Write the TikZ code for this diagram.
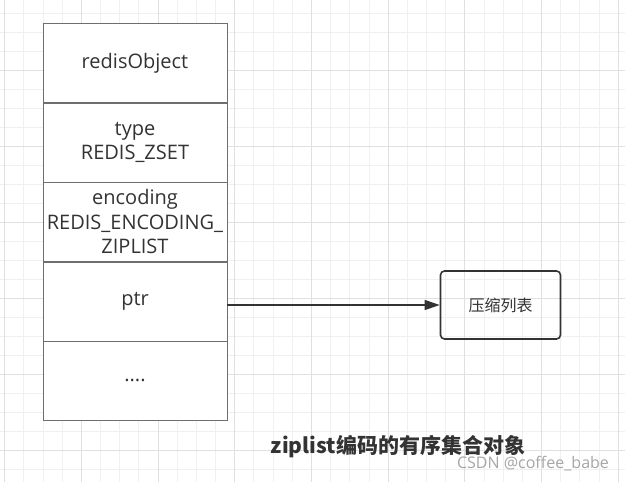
\documentclass[tikz,border=0pt]{standalone}
\usepackage{fontspec}
\setmainfont{Open Sans}
\newfontfamily\cjk{Noto Sans CJK SC}
\usetikzlibrary{arrows.meta,positioning}
\definecolor{ink}{HTML}{333333}
\definecolor{cellline}{HTML}{6E6E6E}
\definecolor{minorgrid}{HTML}{F0F0F0}
\definecolor{majorgrid}{HTML}{E0E0E0}

\begin{document}
\begin{tikzpicture}[x=1pt,y=-1pt]
	\useasboundingbox (0,0) rectangle (625,482);
	\fill[white] (0,0) rectangle (625,482);

	% background grid
	\begin{scope}
		\clip (0,0) rectangle (625,482);
		\draw[minorgrid,line width=0.8pt,xstep=19.175pt,ystep=19pt,shift={(4.6,70)}] (-20,-90) grid (640,430);
		\draw[majorgrid,line width=0.8pt,xstep=76.7pt,ystep=76pt,shift={(4.6,70)}] (-20,-90) grid (640,430);
	\end{scope}

	\begin{scope}[every node/.style={draw=cellline,fill=white,text=ink,minimum width=184.5pt,minimum height=79pt,inner sep=0pt,align=center,font=\fontsize{20}{24.5}\selectfont}]
		\node (obj) at (135,63) {redisObject};
		\node (type) [below=0pt of obj] {type\\REDIS\_ZSET};
		\node (enc) [below=0pt of type] {encoding\\REDIS\_ENCODING\_\\ZIPLIST};
		\node (ptr) [below=0pt of enc] {ptr};
		\node (more) [below=0pt of ptr] {....};
	\end{scope}

	\node (zl) [draw=ink,line width=1.6pt,rounded corners=4pt,minimum width=120pt,minimum height=68pt,text=ink,font=\cjk\fontsize{16}{18}\selectfont] at (500.5,305) {压缩列表};

	\draw[-{Triangle[length=15pt,width=10pt]},ink,line width=1.2pt] (ptr.east |- zl.west) -- (zl.west);

	\node (title) [text=ink,font=\cjk\bfseries\fontsize{21}{24}\selectfont] at (398,447) {ziplist编码的有序集合对象};
	\node (mark) [text=black!35,font=\fontsize{16}{18}\selectfont] at (533,464) {CSDN @coffee\_babe};
\end{tikzpicture}
\end{document}
